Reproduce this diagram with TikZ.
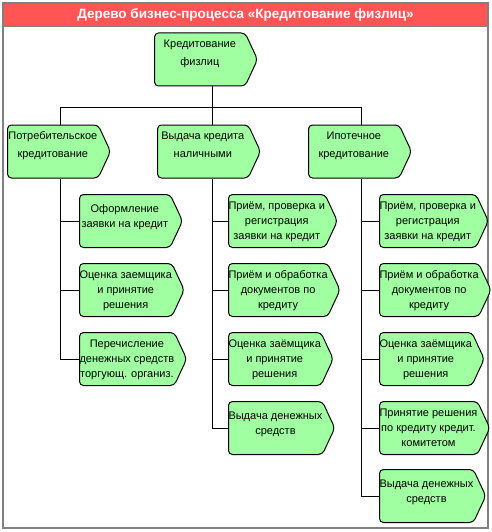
\documentclass[tikz,border=0pt]{standalone}
\usepackage{fontspec}
\setmainfont{Liberation Sans}
\usetikzlibrary{shapes.symbols,positioning}
\definecolor{titlered}{RGB}{255,85,85}
\definecolor{funcgreen}{RGB}{160,255,160}
\tikzset{
  func/.style={signal, signal to=east, signal pointer angle=130,
    draw=black, fill=funcgreen, rounded corners=4pt, line width=1pt,
    minimum width=103pt, minimum height=53pt, inner sep=0pt,
    text height=45pt, text depth=8pt, align=center, anchor=west,
    font=\fontsize{11}{15}\selectfont},
  two/.style={text height=32.5pt, text depth=20.5pt},
  link/.style={line width=1pt}
}

\begin{document}
\begin{tikzpicture}[x=1pt,y=-1pt]
                \useasboundingbox (0,0) rectangle (491,532);
                \def\ra{221}
                \def\rb{290}
                \def\rc{359}
                \def\rd{428}
                \def\re{496}
                %Frame
                \filldraw[fill=titlered, draw=none] (3,3) rectangle (488,26);
                \draw[gray, line width=0.8pt] (3,26) -- (488,26);
                \draw[gray, line width=2pt] (3,3) rectangle (488,528);
                \node[text=white, font=\bfseries\fontsize{13.5}{16}\selectfont] (title) at (245.5,14.5)
                    {Дерево бизнес-процесса «Кредитование физлиц»};
                %Bus
                \coordinate (t1) at (60,108);
                \coordinate (t2) at (212,108);
                \coordinate (t3) at (361,108);
                %Functions
                \node[func,two] (root) at (154,59.5) {Кредитование\\[3pt]физлиц};
                \node[func,two] (p1) at (7,151.5) {Потребительское\\[3pt]кредитование};
                \node[func,two] (p2) at (157,151.5) {Выдача кредита\\[3pt]наличными};
                \node[func,two] (p3) at (308,151.5) {Ипотечное\\[3pt]кредитование};
                \node[func,two] (p11) at (79,\ra) {Оформление\\заявки на кредит};
                \node[func] (p12) at (79,\rb) {Оценка заемщика\\и принятие\\решения};
                \node[func] (p13) at (79,\rc) {Перечисление\\денежных средств\\торгующ. организ.};
                \node[func] (p21) at (228,\ra) {Приём, проверка и\\регистрация\\заявки на кредит};
                \node[func] (p22) at (228,\rb) {Приём и обработка\\документов по\\кредиту};
                \node[func] (p23) at (228,\rc) {Оценка заёмщика\\и принятие\\решения};
                \node[func,two] (p24) at (228,\rd) {Выдача денежных\\средств};
                \node[func] (p31) at (379,\ra) {Приём, проверка и\\регистрация\\заявки на кредит};
                \node[func] (p32) at (379,\rb) {Приём и обработка\\документов по\\кредиту};
                \node[func] (p33) at (379,\rc) {Оценка заёмщика\\и принятие\\решения};
                \node[func] (p34) at (379,\rd) {Принятие решения\\по кредиту кредит.\\комитетом};
                \node[func,two] (p35) at (379,\re) {Выдача денежных\\средств};
                %Draw links
                \draw[link] (root.south -| t2) -- (t2);
                \draw[link] (t1 |- p1.north) -- (t1) -- (t3) -- (t3 |- p3.north);
                \draw[link] (t2) -- (t2 |- p2.north);
                \draw[link] (t1 |- p1.south) |- (p13.west);
                \draw[link] (t2 |- p2.south) |- (p24.west);
                \draw[link] (t3 |- p3.south) |- (p35.west);
                \foreach \n in {p11,p12} \draw[link] (t1 |- \n.west) -- (\n.west);
                \foreach \n in {p21,p22,p23} \draw[link] (t2 |- \n.west) -- (\n.west);
                \foreach \n in {p31,p32,p33,p34} \draw[link] (t3 |- \n.west) -- (\n.west);
            \end{tikzpicture}
\end{document}
